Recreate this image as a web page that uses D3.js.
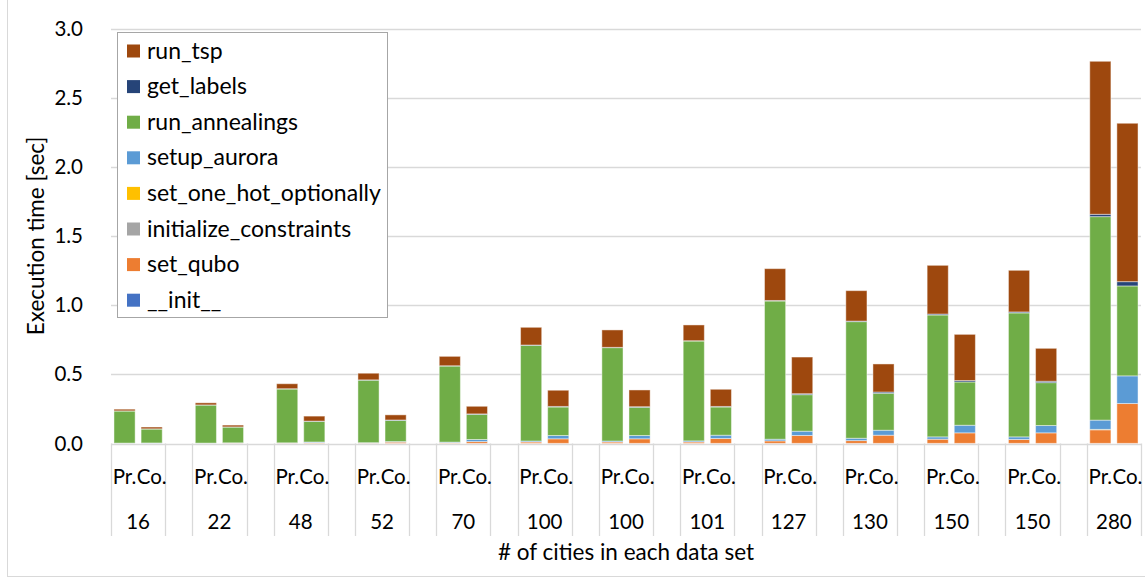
<!DOCTYPE html>
<html>
<head>
<meta charset="utf-8">
<script src="https://cdn.jsdelivr.net/npm/d3@7/dist/d3.min.js"></script>
<style>
  html, body { margin: 0; padding: 0; background: #fff; }
  svg { display: block; font-family: Lato, "Open Sans", sans-serif; }
</style>
</head>
<body>
<svg id="chart" width="1145" height="577"></svg>
<script>
// ---- data ----
const cities = ["16","22","48","52","70","100","100","101","127","130","150","150","280"];
const variants = ["Pr.","Co."];
const seriesNames = ["__init__","set_qubo","initialize_constraints","set_one_hot_optionally","setup_aurora","run_annealings","get_labels","run_tsp"];
const seriesColors = ["#4472C4","#ED7D31","#A5A5A5","#FFC000","#5B9BD5","#70AD47","#264478","#9E480E"];
// values per bar, in order [16 Pr, 16 Co, 22 Pr, 22 Co, ...]
const init_ = [0.001,0.001, 0.001,0.001, 0.001,0.001, 0.001,0.001, 0.001,0.001, 0.001,0.001, 0.001,0.001, 0.001,0.001, 0.001,0.001, 0.001,0.001, 0.001,0.001, 0.001,0.001, 0.001,0.001];
const set_qubo = [0.001,0.001, 0.001,0.002, 0.002,0.004, 0.002,0.009, 0.004,0.013, 0.010,0.033, 0.010,0.033, 0.010,0.035, 0.018,0.057, 0.020,0.059, 0.030,0.076, 0.028,0.076, 0.098,0.288];
const initialize_constraints = [0,0, 0,0, 0,0.002, 0,0, 0.001,0, 0,0, 0,0, 0,0, 0,0, 0,0, 0,0, 0,0, 0,0];
const set_one_hot_optionally = [0,0, 0,0, 0,0, 0,0, 0,0, 0,0, 0,0, 0,0, 0,0, 0,0, 0,0, 0,0, 0.003,0];
const setup_aurora = [0.001,0.002, 0.001,0.002, 0.002,0.004, 0.003,0.004, 0.004,0.015, 0.007,0.024, 0.007,0.024, 0.008,0.024, 0.012,0.031, 0.017,0.036, 0.017,0.055, 0.019,0.053, 0.067,0.200];
const run_annealings = [0.232,0.101, 0.275,0.114, 0.389,0.149, 0.452,0.153, 0.550,0.182, 0.692,0.206, 0.675,0.204, 0.722,0.204, 0.999,0.264, 0.843,0.267, 0.881,0.313, 0.896,0.310, 1.471,0.650];
const get_labels = [0.001,0.001, 0.001,0.001, 0.002,0.002, 0.002,0.003, 0.002,0.003, 0.002,0.004, 0.002,0.004, 0.002,0.004, 0.004,0.007, 0.004,0.009, 0.007,0.010, 0.007,0.010, 0.017,0.031];
const run_tsp = [0.012,0.013, 0.015,0.013, 0.036,0.036, 0.048,0.037, 0.068,0.055, 0.128,0.117, 0.126,0.121, 0.114,0.124, 0.230,0.265, 0.220,0.203, 0.352,0.334, 0.301,0.238, 1.106,1.145];
const yTicks = [0,0.5,1.0,1.5,2.0,2.5,3.0];
const yTitle = "Execution time [sec]";
const xTitle = "# of cities in each data set";
const legendOrder = ["run_tsp","get_labels","run_annealings","setup_aurora","set_one_hot_optionally","initialize_constraints","set_qubo","__init__"];

const seriesValues = [init_, set_qubo, initialize_constraints, set_one_hot_optionally, setup_aurora, run_annealings, get_labels, run_tsp];

// ---- build table ----
const rows = [];
cities.forEach((c, gi) => {
  variants.forEach((v, vi) => {
    const idx = gi * 2 + vi;
    const r = { key: "g" + gi + "-" + vi, group: gi, variant: v };
    seriesNames.forEach((s, si) => r[s] = seriesValues[si][idx]);
    rows.push(r);
  });
});
const slots = [];
cities.forEach((c, gi) => {
  slots.push("g" + gi + "-0", "g" + gi + "-1");
  if (gi < cities.length - 1) slots.push("gap" + gi);
});

// ---- layout ----
const svg = d3.select("#chart");
const pLeft = 111, pRight = 1141, pTop = 28.5, pBottom = 443.5;
const x = d3.scaleBand().domain(slots).range([pLeft, pRight]).paddingInner(0.22).paddingOuter(0.11);
const y = d3.scaleLinear().domain([0, 3]).range([pBottom, pTop]);
const step = x.step();
const gridColor = "#d9d9d9";

// chart border (left side visible)
svg.append("rect").attr("x", 7.5).attr("y", -5).attr("width", 1150).attr("height", 581.5)
  .attr("fill", "none").attr("stroke", gridColor).attr("stroke-width", 1);

// gridlines
svg.append("g").selectAll("line").data(yTicks).join("line")
  .attr("x1", pLeft).attr("x2", pRight)
  .attr("y1", d => Math.round(y(d)) + 0.5).attr("y2", d => Math.round(y(d)) + 0.5)
  .attr("stroke", gridColor).attr("stroke-width", 1.3);

// y axis labels
const yAxis = d3.axisLeft(y).tickValues(yTicks).tickFormat(d3.format(".1f")).tickSize(0).tickPadding(0);
const yg = svg.append("g").attr("transform", `translate(${83},0)`).call(yAxis);
yg.select(".domain").remove();
yg.selectAll("text").attr("font-size", 20.5).attr("fill", "#000").attr("font-family", "Lato, sans-serif");

// y title
svg.append("text").attr("transform", `translate(44,${(pTop + pBottom) / 2}) rotate(-90)`)
  .attr("text-anchor", "middle").attr("font-size", 22.5).attr("fill", "#000").text(yTitle);

// stacked bars
const stack = d3.stack().keys(seriesNames);
const stacked = stack(rows);
svg.append("g").selectAll("g").data(stacked).join("g")
  .attr("fill", (d, i) => seriesColors[i])
  .selectAll("rect").data(d => d).join("rect")
  .attr("x", d => x(d.data.key))
  .attr("width", x.bandwidth())
  .attr("y", d => y(d[1]))
  .attr("height", d => Math.max(0, y(d[0]) - y(d[1])))
  .attr("stroke", "#fff").attr("stroke-opacity", 0.45).attr("stroke-width", 1);

// x axis separators
const sepXs = [];
cities.forEach((c, gi) => {
  const a = x("g" + gi + "-0") - x.paddingInner() * step / 2;
  sepXs.push(a, a + 2 * step);
});
svg.append("g").selectAll("line").data(sepXs).join("line")
  .attr("x1", d => Math.round(d) + 0.5).attr("x2", d => Math.round(d) + 0.5)
  .attr("y1", pBottom).attr("y2", 536)
  .attr("stroke", gridColor).attr("stroke-width", 1.3);

// level 1 labels
svg.append("g").selectAll("text").data(rows).join("text")
  .attr("x", d => x(d.key) + x.bandwidth() / 2)
  .attr("y", 484)
  .attr("text-anchor", "middle").attr("font-size", 20.5).attr("fill", "#000")
  .text(d => d.variant);

// level 2 labels
svg.append("g").selectAll("text").data(cities).join("text")
  .attr("x", (d, gi) => x("g" + gi + "-0") - x.paddingInner() * step / 2 + step)
  .attr("y", 529)
  .attr("text-anchor", "middle").attr("font-size", 20.5).attr("fill", "#000")
  .text(d => d);

// x title
svg.append("text").attr("x", 626).attr("y", 560)
  .attr("text-anchor", "middle").attr("font-size", 22.5).attr("fill", "#000").text(xTitle);

// legend
const lg = svg.append("g");
lg.append("rect").attr("x", 117.5).attr("y", 32.5).attr("width", 270).attr("height", 285)
  .attr("fill", "#fff").attr("stroke", "#a6a6a6").attr("stroke-width", 1);
const items = lg.selectAll("g.item").data(legendOrder).join("g").attr("class", "item")
  .attr("transform", (d, i) => `translate(0,${51 + i * 35.6})`);
items.append("rect").attr("x", 127).attr("y", -6.5).attr("width", 13).attr("height", 13)
  .attr("fill", d => seriesColors[seriesNames.indexOf(d)]);
items.append("text").attr("x", 147).attr("y", 7.5).attr("font-size", 23).attr("fill", "#000").text(d => d);
</script>
</body>
</html>
